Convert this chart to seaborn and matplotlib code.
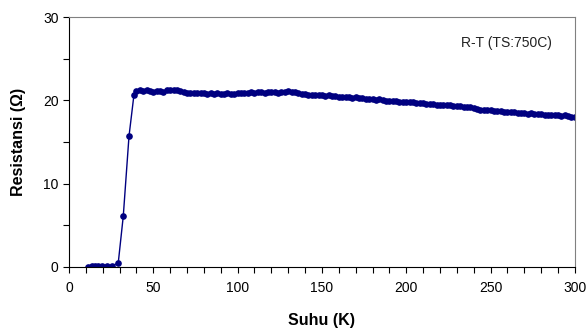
import pandas as pd
import seaborn as sns
import matplotlib.pyplot as plt
from matplotlib.ticker import MultipleLocator

# R-T data
suhu = [11.4, 13.4, 15.4, 17.4, 19.4, 22.3, 25.3, 29.2, 32.2, 35.6, 38.5,
        40, 42, 44, 46, 48, 50, 52, 54, 56, 58, 60, 62, 64, 66, 68, 70,
        72, 74, 76, 78, 80, 82, 84, 86, 88, 90, 92, 94, 96, 98, 100,
        102, 104, 106, 108, 110, 112, 114, 116, 118, 120, 122, 124, 126, 128, 130,
        132, 134, 136, 138, 140, 142, 144, 146, 148, 150, 152, 154, 156, 158, 160,
        162, 164, 166, 168, 170, 172, 174, 176, 178, 180, 182, 184, 186, 188, 190,
        192, 194, 196, 198, 200, 202, 204, 206, 208, 210, 212, 214, 216, 218, 220,
        222, 224, 226, 228, 230, 232, 234, 236, 238, 240, 242, 244, 246, 248, 250,
        252, 254, 256, 258, 260, 262, 264, 266, 268, 270, 272, 274, 276, 278, 280,
        282, 284, 286, 288, 290, 292, 294, 296, 298, 300]
resistansi = [0.05, 0.1, 0.12, 0.1, 0.12, 0.12, 0.15, 0.45, 6.1, 15.7, 20.6,
              21.1, 21.2, 21.1, 21.2, 21.1, 21.0, 21.1, 21.1, 21.0, 21.2, 21.3, 21.2, 21.2, 21.1, 21.0, 20.9,
              20.9, 20.85, 20.85, 20.9, 20.85, 20.8, 20.85, 20.8, 20.85, 20.8, 20.8, 20.85, 20.8, 20.8, 20.85,
              20.85, 20.9, 20.9, 20.95, 20.9, 21.0, 20.95, 20.9, 20.95, 21.0, 20.95, 20.9, 21.0, 21.05, 21.1,
              21.05, 21.0, 20.9, 20.8, 20.75, 20.7, 20.65, 20.7, 20.6, 20.6, 20.55, 20.6, 20.5, 20.5, 20.45,
              20.4, 20.45, 20.4, 20.3, 20.35, 20.3, 20.25, 20.2, 20.2, 20.15, 20.1, 20.15, 20.0, 19.95, 19.95,
              19.9, 19.9, 19.85, 19.8, 19.8, 19.75, 19.8, 19.7, 19.7, 19.65, 19.6, 19.6, 19.55, 19.5, 19.5,
              19.45, 19.4, 19.4, 19.35, 19.3, 19.3, 19.25, 19.2, 19.2, 19.1, 18.95, 18.85, 18.85, 18.8, 18.8,
              18.75, 18.75, 18.7, 18.65, 18.65, 18.6, 18.55, 18.5, 18.45, 18.45, 18.4, 18.45, 18.4, 18.35, 18.4,
              18.3, 18.25, 18.3, 18.2, 18.25, 18.15, 18.2, 18.1, 18.05, 18.0]

df = pd.DataFrame({"Suhu": suhu, "Resistansi": resistansi})

sns.set_style("white")
plt.rcParams["font.family"] = ["Liberation Sans", "DejaVu Sans"]

fig = plt.figure(figsize=(5.86, 3.31), dpi=100)
ax = fig.add_axes([0.1177, 0.1934, 0.8633, 0.7552])

sns.lineplot(data=df, x="Suhu", y="Resistansi", ax=ax, color="#000080",
             marker="o", markersize=4.8, markeredgewidth=0, linewidth=1.0,
             sort=False)

ax.set_xlim(0, 300)
ax.set_ylim(0, 30)
ax.xaxis.set_major_locator(MultipleLocator(50))
ax.xaxis.set_minor_locator(MultipleLocator(10))
ax.yaxis.set_major_locator(MultipleLocator(10))
ax.yaxis.set_minor_locator(MultipleLocator(5))
ax.tick_params(which="both", direction="out", length=4, width=0.8, color="black",
               labelsize=10, labelcolor="black", bottom=True, left=True)
ax.tick_params(axis="x", pad=6)

for s in ["left", "bottom"]:
    ax.spines[s].set_color("black")
    ax.spines[s].set_linewidth(0.8)
for s in ["top", "right"]:
    ax.spines[s].set_color("#808080")
    ax.spines[s].set_linewidth(0.8)

ax.set_xlabel("Suhu (K)", fontsize=11.5, fontweight="bold", labelpad=13, color="black")
ax.set_ylabel("Resistansi (Ω)", fontsize=11.5, fontweight="bold", labelpad=12, color="black")

ax.text(0.955, 0.896, "R-T (TS:750C)", transform=ax.transAxes, ha="right",
        va="center", fontsize=10, color="#222222")

fig.savefig("out.png", dpi=100)
